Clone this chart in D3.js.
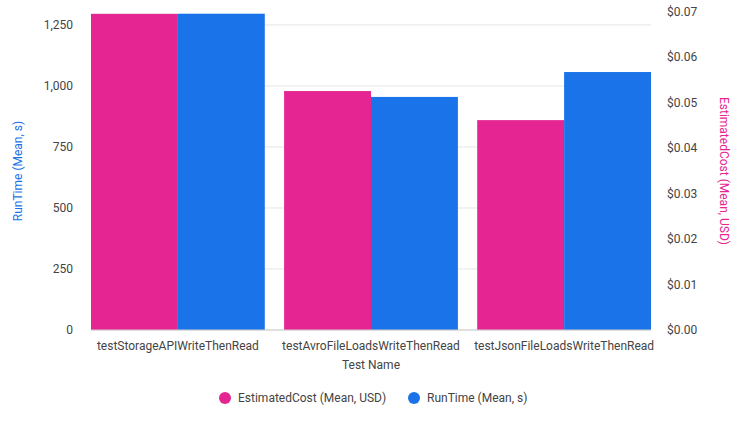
<!DOCTYPE html>
<html><head><meta charset="utf-8">
<script src="https://cdn.jsdelivr.net/npm/d3@7"></script>
<style>body{margin:0;background:#fff;font-family:Roboto,sans-serif}</style>
</head><body><svg id="c" width="745" height="429"></svg>
<script>
const categories=["testStorageAPIWriteThenRead","testAvroFileLoadsWriteThenRead","testJsonFileLoadsWriteThenRead"];
const estimatedCost=[0.0696,0.0526,0.0462];
const runTime=[1296,955,1057];
const leftTicks=[0,250,500,750,1000,1250];
const rightTicks=[0,0.01,0.02,0.03,0.04,0.05,0.06,0.07];
const costColor="#e52592",runColor="#1a73e8",textColor="#444";
const svg=d3.select("#c");
const L=91,R=651,T=12,B=330;
const x=d3.scaleBand().domain(categories).range([L,R]).paddingInner(0.1).paddingOuter(0);
const yL=d3.scaleLinear().domain([0,1303]).range([B,T]);
const yR=d3.scaleLinear().domain([0,0.07]).range([B,T]);
svg.append("g").selectAll("line").data(leftTicks).join("line")
 .attr("x1",L).attr("x2",R).attr("y1",d=>yL(d)).attr("y2",d=>yL(d)).attr("stroke","#e6e6e6");
const g=svg.append("g");
categories.forEach((c,i)=>{
 const w=x.bandwidth()/2;
 g.append("rect").attr("x",x(c)).attr("width",w).attr("y",yR(estimatedCost[i])).attr("height",B-yR(estimatedCost[i])).attr("fill",costColor);
 g.append("rect").attr("x",x(c)+w).attr("width",w).attr("y",yL(runTime[i])).attr("height",B-yL(runTime[i])).attr("fill",runColor);
});
svg.append("line").attr("x1",L).attr("x2",R).attr("y1",B).attr("y2",B).attr("stroke","#ccc");
const fmtL=d3.format(",");
svg.append("g").selectAll("text").data(leftTicks).join("text")
 .attr("x",73).attr("y",d=>yL(d)+4).attr("text-anchor","end").attr("font-size",12).attr("fill",textColor).text(d=>fmtL(d));
svg.append("g").selectAll("text").data(rightTicks).join("text")
 .attr("x",667).attr("y",d=>yR(d)+4).attr("font-size",12).attr("fill",textColor).text(d=>"$"+d.toFixed(2));
svg.append("g").selectAll("text").data(categories).join("text")
 .attr("x",d=>x(d)+x.bandwidth()/2).attr("y",350).attr("text-anchor","middle").attr("font-size",12).attr("fill",textColor).text(d=>d);
svg.append("text").attr("x",371).attr("y",369).attr("text-anchor","middle").attr("font-size",12).attr("fill",textColor).text("Test Name");
svg.append("text").attr("transform","translate(22,171) rotate(-90)").attr("text-anchor","middle").attr("font-size",12).attr("fill",runColor).text("RunTime (Mean, s)");
svg.append("text").attr("transform","translate(720,171) rotate(90)").attr("text-anchor","middle").attr("font-size",12).attr("fill",costColor).text("EstimatedCost (Mean, USD)");
const leg=[["EstimatedCost (Mean, USD)",costColor,225],["RunTime (Mean, s)",runColor,414]];
leg.forEach(([t,c,cx])=>{
 svg.append("circle").attr("cx",cx).attr("cy",398).attr("r",6).attr("fill",c);
 svg.append("text").attr("x",cx+13).attr("y",402).attr("font-size",12).attr("fill",textColor).text(t);
});
</script></body></html>
